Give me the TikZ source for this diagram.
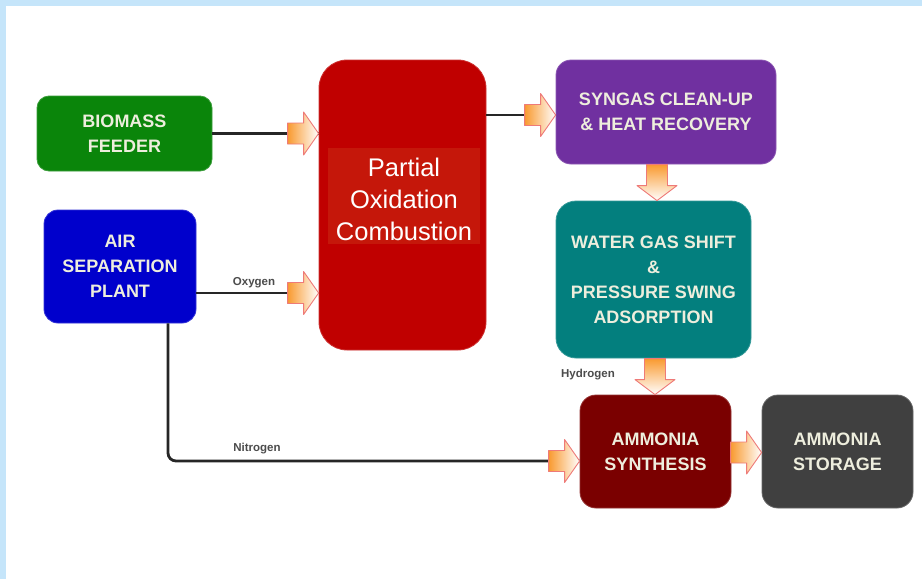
\documentclass[tikz,border=0pt]{standalone}
\usepackage{fontspec}
\setmainfont{Liberation Sans}
\begin{document}
\begin{tikzpicture}[x=1pt,y=-1pt,
  box/.style={draw=#1!80!white, fill=#1, line width=0.8, rounded corners=12, align=center, inner sep=0,
    text=boxtext, font=\fontsize{18}{25}\selectfont\bfseries},
  conn/.style={line width=2.8, draw=black!85},
  lbl/.style={font=\fontsize{11.5}{14}\selectfont\bfseries, text=black!70, inner sep=0},
  barrow/.style={draw=arrowedge, line width=0.9, line join=round}
]
\definecolor{boxtext}{HTML}{EEEEDD}
\definecolor{cgreen}{HTML}{0A850A}
\definecolor{cblue}{HTML}{0000CC}
\definecolor{cred}{HTML}{C00000}
\definecolor{cinner}{HTML}{C5170A}
\definecolor{cpurple}{HTML}{7030A0}
\definecolor{cteal}{HTML}{037F7E}
\definecolor{cdred}{HTML}{7A0000}
\definecolor{cgrey}{HTML}{404040}
\definecolor{frame}{HTML}{C5E5FA}
\definecolor{arrowedge}{HTML}{EE7A78}
\definecolor{arroworange}{HTML}{F99A30}
\newcommand\barrowR[1]{%
  \path[barrow, left color=arroworange, right color=white]
    (#1) -- ++(-15,21.5) -- ++(0,-11) -- ++(-16,0) -- ++(0,-21) -- ++(16,0) -- ++(0,-11) -- cycle;}
\newcommand\barrowD[1]{%
  \path[barrow, top color=arroworange, bottom color=white]
    (#1) -- ++(20,-15) -- ++(-9.5,0) -- ++(0,-21) -- ++(-21,0) -- ++(0,21) -- ++(-9.5,0) -- cycle;}

% frame
\fill[frame] (0,0) rectangle (922,579);
\fill[white] (6,6) rectangle (922,579);
\useasboundingbox (0,0) rectangle (922,579);

% boxes
\node[box=cgreen, minimum width=175, minimum height=75] (bio) at (124.5,133.5) {BIOMASS\\FEEDER};
\node[box=cblue, minimum width=152, minimum height=113, rounded corners=14] (air) at (120,266.5) {AIR\\SEPARATION\\PLANT};
\node[box=cred, minimum width=167, minimum height=290, rounded corners=28] (poc) at (402.5,205) {};
\node[fill=cinner, minimum width=152, minimum height=96, inner sep=0] (pocbg) at (404,196) {};
\node[align=center, text=white, inner sep=0,
  font=\fontsize{25.5}{32}\selectfont] (poctext) at (404,199) {Partial\\Oxidation\\Combustion};
\node[box=cpurple, minimum width=220, minimum height=104, rounded corners=15] (syn) at (666,112) {SYNGAS CLEAN-UP\\\& HEAT RECOVERY};
\node[box=cteal, minimum width=195, minimum height=157, rounded corners=20] (wgs) at (653.5,279.5) {WATER GAS SHIFT\\\&\\PRESSURE SWING\\ADSORPTION};
\node[box=cdred, minimum width=151, minimum height=113, rounded corners=16] (nh3) at (655.5,451.5) {AMMONIA\\SYNTHESIS};
\node[box=cgrey, minimum width=151, minimum height=113, rounded corners=16] (sto) at (837.5,451.5) {AMMONIA\\STORAGE};

% connection points
\coordinate (bioin) at (poc.west |- bio.east);
\coordinate (oxin) at ([yshift=-26.5]air.east -| poc.west);
\coordinate (oxout) at ([yshift=-26.5]air.east);
\coordinate (synin) at ([yshift=-3]syn.west);
\coordinate (pocout) at (poc.east |- synin);
\coordinate (wgsin) at (wgs.north -| 657,0);
\coordinate (nh3top) at (nh3.north -| 655,0);
\coordinate (nitstart) at (air.south -| 168,0);
\coordinate (nitin) at ([yshift=-9.5]nh3.west);
\coordinate (stoin) at ([yshift=-1]sto.west);

% connector lines
\draw[conn] (bio.east) -- (bioin);
\draw[conn] (oxout) -- (oxin);
\draw[conn] (pocout) -- (synin);
\draw[conn, rounded corners=8] (nitstart) |- (nitin);

% block arrows
\barrowR{bioin}
\barrowR{oxin}
\barrowR{synin}
\barrowR{nitin}
\barrowR{stoin}
\barrowD{wgsin}
\barrowD{nh3top}

% labels
\node[lbl] (oxy) at (254,283) {Oxygen};
\node[lbl] (hyd) at (588,375) {Hydrogen};
\node[lbl] (nit) at (257,449) {Nitrogen};
\end{tikzpicture}
\end{document}
